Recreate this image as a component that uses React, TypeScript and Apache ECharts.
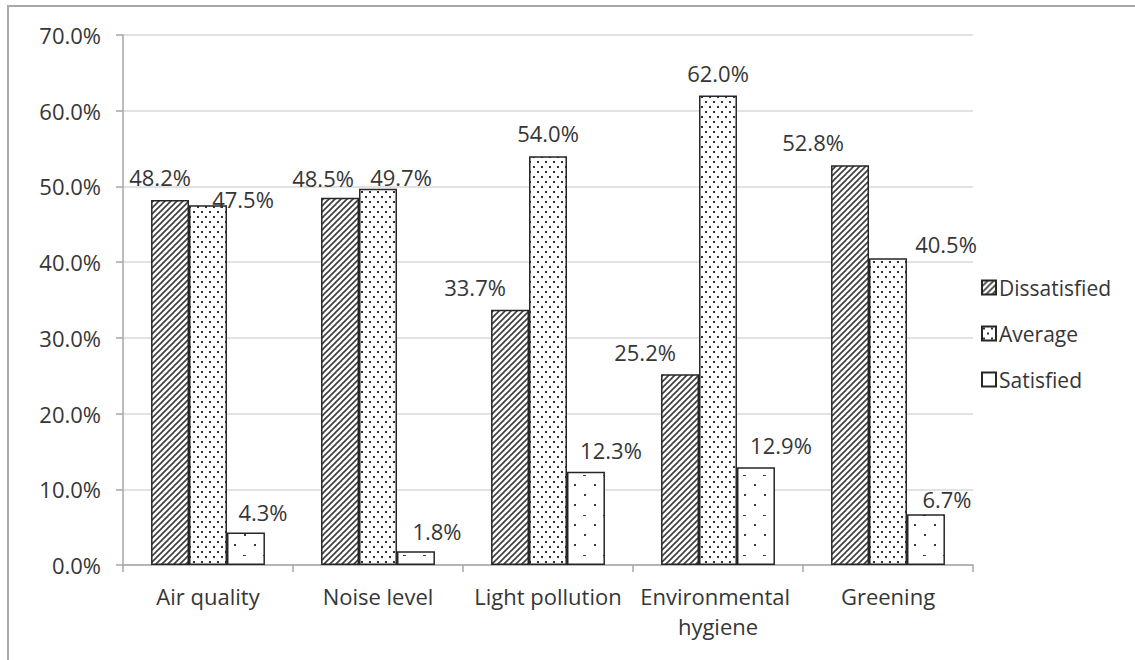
import { useEffect, useRef } from "react";
import * as echarts from "echarts";

// Satisfaction survey results, in percent
const categories = ["Air quality", "Noise level", "Light pollution", "Environmental hygiene", "Greening"];
const seriesNames = ["Dissatisfied", "Average", "Satisfied"];
const dissatisfied = [48.2, 48.5, 33.7, 25.2, 52.8];
const average = [47.5, 49.7, 54.0, 62.0, 40.5];
const satisfied = [4.3, 1.8, 12.3, 12.9, 6.7];
const yMax = 70;
const yStep = 10;

// Hand-placed label nudges [dx, dy] per series and category
const labelNudges: number[][][] = [
  [[-10, -7], [-17, -4], [-35, -7], [-35, -6], [-37, -7]],
  [[35, 10], [23, 4], [0, -7], [0, -7], [58, 2]],
  [[17, -4], [21, -4], [25, -6], [25, -6], [21, 1]],
];

const FONT = "'Open Sans', 'Noto Sans', sans-serif";
const TEXT = "#363636";
const AXIS = "#a6a6a6";

function makeTile(w: number, h: number, draw: (ctx: CanvasRenderingContext2D) => void) {
  const c = document.createElement("canvas");
  c.width = w;
  c.height = h;
  const ctx = c.getContext("2d")!;
  ctx.fillStyle = "#ffffff";
  ctx.fillRect(0, 0, w, h);
  draw(ctx);
  return c;
}

function hatchTile() {
  return makeTile(6, 6, (ctx) => {
    ctx.strokeStyle = "#3c3c3c";
    ctx.lineWidth = 1.6;
    for (const k of [-6, 0, 6]) {
      ctx.beginPath();
      ctx.moveTo(k - 1, 7);
      ctx.lineTo(k + 7, -1);
      ctx.stroke();
    }
  });
}

function denseDotTile() {
  return makeTile(8, 10, (ctx) => {
    ctx.fillStyle = "#333333";
    ctx.fillRect(1, 1, 2, 2);
    ctx.fillRect(5, 6, 2, 2);
  });
}

function sparseDotTile() {
  return makeTile(20, 40, (ctx) => {
    ctx.fillStyle = "#3a3a3a";
    ctx.fillRect(14, 4, 2, 2);
    ctx.fillRect(4, 14, 2, 2);
    ctx.fillRect(14, 24, 2, 2);
    ctx.fillRect(3, 35, 3, 1);
  });
}

export default function App() {
  const ref = useRef<HTMLDivElement>(null);

  useEffect(() => {
    if (!ref.current) return;
    const chart = echarts.init(ref.current, null, { renderer: "svg" });
    const fills = [hatchTile(), denseDotTile(), sparseDotTile()];
    const values = [dissatisfied, average, satisfied];

    const series = seriesNames.map((name, s) => ({
      name,
      type: "bar" as const,
      barGap: "0%",
      barCategoryGap: "33%",
      itemStyle: {
        color: { image: fills[s], repeat: "repeat" },
        borderColor: "#262626",
        borderWidth: 1.5,
      },
      label: {
        show: true,
        position: "top",
        distance: 5,
        color: TEXT,
        fontFamily: FONT,
        fontSize: 22,
        formatter: (p: any) => `${Number(p.value).toFixed(1)}%`,
      },
      data: values[s].map((v, i) => ({
        value: v,
        label: { offset: labelNudges[s][i] },
      })),
    }));

    chart.setOption({
      animation: false,
      backgroundColor: "#ffffff",
      textStyle: { fontFamily: FONT },
      graphic: [
        {
          type: "rect",
          z: -10,
          shape: { x: 8, y: 6, width: 1200, height: 720 },
          style: { fill: "none", stroke: "#a8a8a8", lineWidth: 2 },
        },
      ],
      grid: { left: 123, right: 162, top: 35, bottom: 95, containLabel: false },
      legend: {
        orient: "vertical",
        left: 981,
        top: 277,
        padding: 0,
        itemGap: 25,
        itemWidth: 14,
        itemHeight: 14,
        icon: "rect",
        data: seriesNames,
        textStyle: { color: TEXT, fontFamily: FONT, fontSize: 21, padding: [0, 0, 0, -2] },
      },
      xAxis: {
        type: "category",
        data: categories,
        axisLine: { lineStyle: { color: AXIS, width: 1.5 } },
        axisTick: { show: true, length: 7, lineStyle: { color: AXIS, width: 1.5 } },
        axisLabel: {
          interval: 0,
          margin: 16,
          color: TEXT,
          fontFamily: FONT,
          fontSize: 22,
          lineHeight: 30,
          width: 165,
          overflow: "break",
        },
      },
      yAxis: {
        type: "value",
        min: 0,
        max: yMax,
        interval: yStep,
        axisLine: { show: true, lineStyle: { color: AXIS, width: 1.5 } },
        axisTick: { show: true, length: 7, lineStyle: { color: AXIS, width: 1.5 } },
        axisLabel: {
          margin: 22,
          color: TEXT,
          fontFamily: FONT,
          fontSize: 22,
          formatter: (v: number) => `${v.toFixed(1)}%`,
        },
        splitLine: { lineStyle: { color: "#d9d9d9", width: 1.5 } },
      },
      series,
    });

    return () => chart.dispose();
  }, []);

  return (
    <div
      ref={ref}
      style={{ position: "absolute", left: 0, top: 0, width: 1135, height: 660 }}
    />
  );
}
